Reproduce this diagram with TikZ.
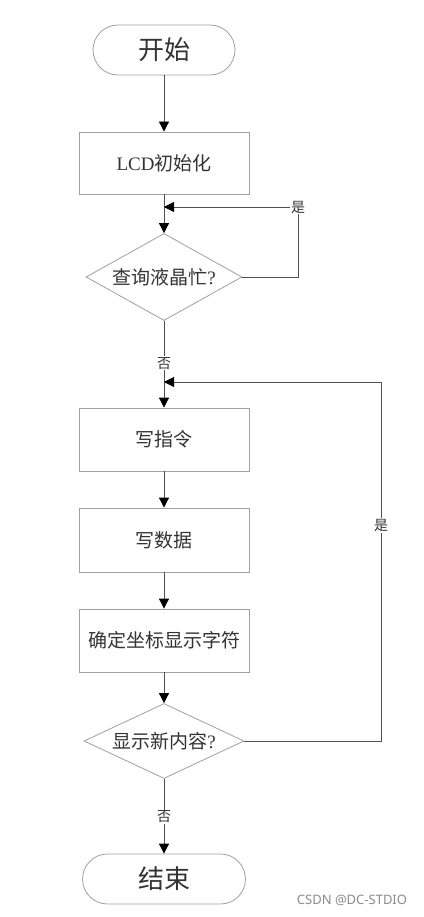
\documentclass[tikz,border=0pt]{standalone}
\usepackage{fontspec}
\setmainfont{Liberation Serif}
\newfontfamily\cjk{Noto Sans CJK SC}
\newfontfamily\wmfont{Noto Sans}
\usetikzlibrary{shapes.geometric,arrows.meta}
\definecolor{boxline}{HTML}{A0A0A0}
\definecolor{connline}{HTML}{505050}
\definecolor{txt}{HTML}{333333}
\tikzset{
  terminal/.style={draw=boxline,line width=0.8pt,rounded corners=25pt,minimum width=#1,minimum height=50pt,inner sep=0pt,text=txt,font=\cjk\fontsize{26pt}{28pt}\selectfont},
  procbox/.style={draw=boxline,line width=0.8pt,minimum width=170pt,minimum height=#1,inner sep=0pt,text=txt,font=\cjk\fontsize{19pt}{21pt}\selectfont},
  decision/.style={draw=boxline,line width=0.8pt,shape=diamond,inner sep=0pt,text=txt,font=\cjk\fontsize{19pt}{21pt}\selectfont},
  conn/.style={draw=connline,line width=0.8pt},
  arr/.style={conn,-{Triangle[width=10pt,length=10pt,black]}},
  lab/.style={fill=white,inner sep=1pt,text=txt,font=\cjk\fontsize{14pt}{16pt}\selectfont}
}
\begin{document}
\begin{tikzpicture}[x=1pt,y=-1pt]
\useasboundingbox[fill=white] (0,0) rectangle (423,917);
\node[terminal=142pt] (start) at (164,50) {开始};
\node[procbox=62pt] (lcd) at (164,163) {{\rmfamily LCD}初始化};
\node[decision,aspect=1.8,minimum width=156pt,minimum height=87pt] (q1) at (164,277) {查询液晶忙{\rmfamily ?}};
\node[procbox=63pt] (cmd) at (164,439.5) {写指令};
\node[procbox=64pt] (data) at (164,540) {写数据};
\node[procbox=63pt] (coord) at (164,640.5) {确定坐标显示字符};
\node[decision,aspect=2.13,minimum width=160pt,minimum height=75pt] (q2) at (164,741) {显示新内容{\rmfamily ?}};
\node[terminal=163pt] (stop) at (164,879) {结束};

\coordinate (j1) at (164,207);
\coordinate (c1) at (298,207);
\coordinate (j2) at (164,382);
\coordinate (c2) at (381,382);

\draw[arr] (start) -- (lcd);
\draw[arr] (lcd) -- (q1);
\draw[arr] (q1.east) -| (c1) -- (j1);
\node[lab] at (c1) {是};
\draw[arr] (q1.south) -- node[lab,pos=0.49] {否} (cmd.north);
\draw[arr] (q2.east) -| node[lab,pos=0.80] {是} (c2) -- (j2);
\draw[arr] (cmd) -- (data);
\draw[arr] (data) -- (coord);
\draw[arr] (coord) -- (q2);
\draw[arr] (q2.south) -- node[lab,pos=0.51] {否} (stop.north);

\node[text=gray!90,font=\wmfont\fontsize{13pt}{15pt}\selectfont] (wm) at (352,900) {CSDN @DC-STDIO};
\end{tikzpicture}
\end{document}
